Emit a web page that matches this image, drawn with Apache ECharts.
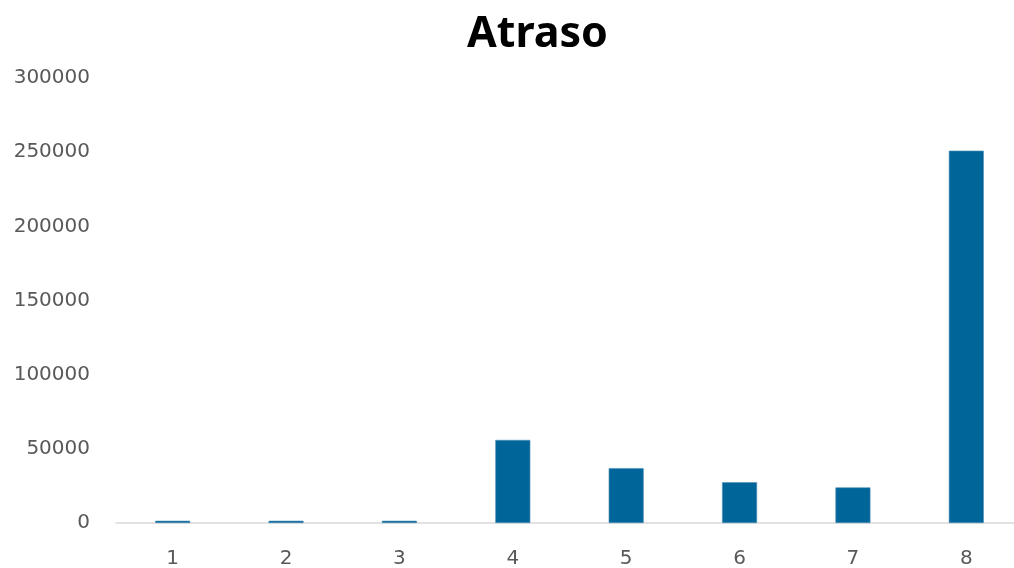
<!DOCTYPE html>
<html>
<head>
<meta charset="utf-8">
<script src="https://cdn.jsdelivr.net/npm/echarts@6/dist/echarts.min.js"></script>
<style>
  html, body { margin: 0; padding: 0; background: #ffffff; }
  #chart { width: 1014px; height: 568px; }
</style>
</head>
<body>
<div id="chart"></div>
<script>
// Atraso per group
const categories = ['1', '2', '3', '4', '5', '6', '7', '8'];
const atraso = [1500, 1500, 1500, 56000, 37000, 27500, 24000, 251000];
const yTicks = { min: 0, max: 300000, interval: 50000 };

const chart = echarts.init(document.getElementById('chart'));
chart.setOption({
  animation: false,
  title: {
    text: 'Atraso',
    left: 462,
    top: 8,
    textStyle: { fontFamily: 'Noto Sans', fontSize: 43, fontWeight: 'bold', color: '#000000' }
  },
  // plot area runs slightly past the right edge of the canvas
  grid: { left: 116, width: 907, top: 78, bottom: 45, outerBoundsMode: 'none' },
  xAxis: {
    type: 'category',
    data: categories,
    axisLine: { lineStyle: { color: '#d9d9d9', width: 1.5 } },
    axisTick: { show: false },
    axisLabel: { color: '#595959', fontFamily: 'DejaVu Sans', fontSize: 20, margin: 26 }
  },
  yAxis: {
    type: 'value',
    min: yTicks.min,
    max: yTicks.max,
    interval: yTicks.interval,
    splitLine: { show: false },
    axisLine: { show: false },
    axisTick: { show: false },
    axisLabel: {
      color: '#595959', fontFamily: 'DejaVu Sans', fontSize: 20, margin: 26,
      padding: [4, 0, 0, 0],
      formatter: v => String(v)
    }
  },
  series: [{
    type: 'bar',
    data: atraso,
    barWidth: 35,
    itemStyle: { color: '#006699', borderColor: '#4f8fb8', borderWidth: 0.6 }
  }]
});
</script>
</body>
</html>
